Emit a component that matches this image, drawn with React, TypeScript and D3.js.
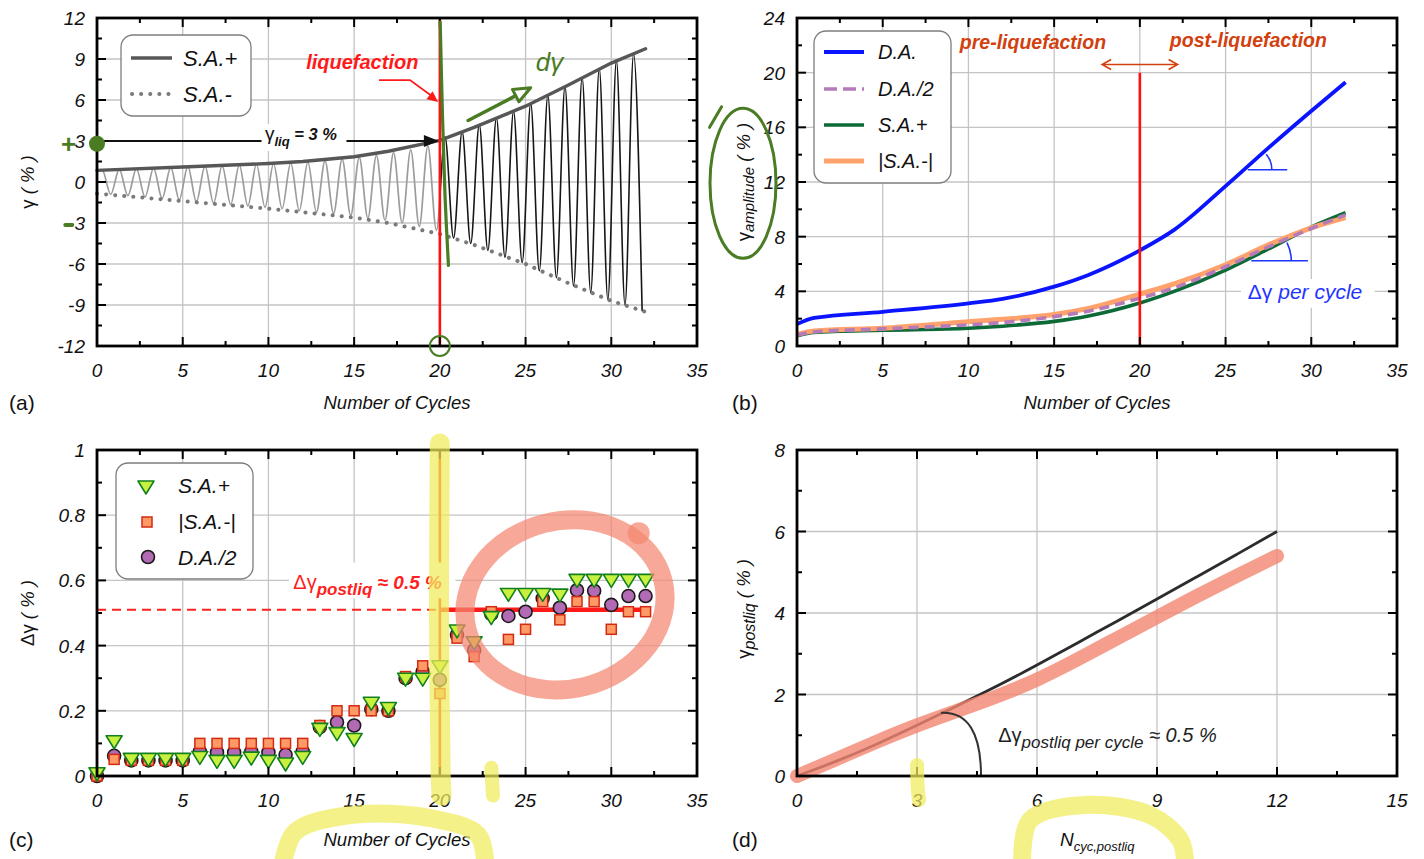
import React from 'react';
import * as d3 from 'd3';

const FONT = '"Liberation Sans", Arial, Helvetica, sans-serif';

// ===================== Panel (a): strain time history =====================
const aXTicks = [0, 5, 10, 15, 20, 25, 30, 35];
const aYTicks = [-12, -9, -6, -3, 0, 3, 6, 9, 12];
const aCycles = [0, 1, 2, 3, 4, 5, 6, 7, 8, 9, 10, 11, 12, 13, 14, 15, 16, 17, 18, 19, 20, 21, 22, 23, 24, 25, 26, 27, 28, 29, 30, 31];
const aPeakStrain = [0.88, 0.92, 0.97, 1.02, 1.07, 1.12, 1.16, 1.2, 1.25, 1.3, 1.35, 1.4, 1.46, 1.55, 1.67, 1.8, 1.95, 2.15, 2.35, 2.65, 3.3, 3.7, 4.2, 4.7, 5.2, 5.75, 6.35, 7.0, 7.65, 8.3, 8.9, 9.4];
const aTroughStrain = [-0.9, -1.0, -1.1, -1.2, -1.3, -1.45, -1.55, -1.65, -1.75, -1.85, -1.95, -2.1, -2.2, -2.3, -2.45, -2.65, -2.8, -3.0, -3.25, -3.55, -4.1, -4.5, -5.0, -5.5, -5.9, -6.5, -7.0, -7.6, -8.1, -8.6, -9.0, -9.45];
const aEnvPlusX = [0, 5, 10, 12, 15, 17, 20, 22, 25, 27.5, 30, 32];
const aEnvPlusY = [0.85, 1.1, 1.35, 1.5, 1.85, 2.25, 3.05, 4.0, 5.55, 7.1, 8.7, 9.75];
const aEnvMinusX = [0, 5, 10, 15, 17, 20, 22, 25, 27.5, 30, 32];
const aEnvMinusY = [-0.85, -1.4, -1.95, -2.6, -3.0, -3.8, -4.6, -6.0, -7.4, -8.7, -9.5];
const LIQ_CYCLE = 20;
const LIQ_STRAIN = 3;
const PEAK_PHASE = 0.3;
const TROUGH_PHASE = 0.8;

// ===================== Panel (b): amplitudes =====================
const bXTicks = [0, 5, 10, 15, 20, 25, 30, 35];
const bYTicks = [0, 4, 8, 12, 16, 20, 24];
const bCycles = [0, 1, 5, 10, 12, 15, 17, 20, 22, 25, 27.5, 30, 32];
const bDA = [1.6, 2.05, 2.5, 3.12, 3.45, 4.34, 5.2, 7.0, 8.5, 11.7, 14.5, 17.2, 19.3];
const bDAHalf = [0.8, 1.03, 1.25, 1.55, 1.72, 2.15, 2.55, 3.5, 4.25, 5.8, 7.25, 8.6, 9.6];
const bSAPlus = [0.75, 1.0, 1.15, 1.3, 1.45, 1.8, 2.2, 3.15, 4.0, 5.55, 7.1, 8.7, 9.75];
const bSAMinusAbs = [0.85, 1.1, 1.3, 1.78, 1.95, 2.3, 2.75, 3.8, 4.55, 5.95, 7.4, 8.65, 9.4];
const bLiqTop = 20;

// ===================== Panel (c): increments per cycle =====================
const cXTicks = [0, 5, 10, 15, 20, 25, 30, 35];
const cYTicks = [0, 0.2, 0.4, 0.6, 0.8, 1];
const cCycles = [0, 1, 2, 3, 4, 5, 6, 7, 8, 9, 10, 11, 12, 13, 14, 15, 16, 17, 18, 19, 20, 21, 22, 23, 24, 25, 26, 27, 28, 29, 30, 31, 32];
const cSAPlus = [0.01, 0.108, 0.054, 0.054, 0.054, 0.054, 0.06, 0.048, 0.048, 0.058, 0.048, 0.04, 0.06, 0.146, 0.133, 0.115, 0.226, 0.21, 0.3, 0.3, 0.338, 0.448, 0.412, 0.489, 0.56, 0.56, 0.56, 0.558, 0.603, 0.603, 0.603, 0.603, 0.603];
const cSAMinusAbs = [0.0, 0.051, 0.048, 0.048, 0.048, 0.048, 0.1, 0.1, 0.1, 0.1, 0.1, 0.1, 0.1, 0.155, 0.2, 0.2, 0.2, 0.2, 0.305, 0.338, 0.253, 0.423, 0.366, 0.504, 0.419, 0.45, 0.535, 0.479, 0.535, 0.535, 0.45, 0.504, 0.504];
const cDAHalf = [0.0, 0.062, 0.048, 0.048, 0.048, 0.048, 0.075, 0.072, 0.072, 0.075, 0.072, 0.065, 0.075, 0.15, 0.165, 0.155, 0.205, 0.2, 0.3, 0.32, 0.295, 0.433, 0.386, 0.497, 0.491, 0.504, 0.545, 0.516, 0.57, 0.568, 0.525, 0.552, 0.552];
const cPostliqMean = 0.51;
const cPostliqEnd = 32.3;

// ===================== Panel (d): post-liquefaction strain =====================
const dXTicks = [0, 3, 6, 9, 12, 15];
const dYTicks = [0, 2, 4, 6, 8];
const dCycles = [0, 1, 2, 3, 4, 5, 6, 7, 8, 9, 10, 11, 12];
const dGammaPost = [0, 0.36, 0.78, 1.24, 1.72, 2.2, 2.72, 3.26, 3.8, 4.34, 4.89, 5.44, 6.0];
const dHighlight = [0, 0.42, 0.85, 1.25, 1.6, 1.95, 2.35, 2.85, 3.38, 3.9, 4.42, 4.92, 5.4];

// ===================== scales =====================
const sxA = d3.scaleLinear().domain([0, 35]).range([97, 697]);
const syA = d3.scaleLinear().domain([-12, 12]).range([346, 18]);
const sxB = d3.scaleLinear().domain([0, 35]).range([797, 1397]);
const syB = d3.scaleLinear().domain([0, 24]).range([346, 18]);
const sxC = d3.scaleLinear().domain([0, 35]).range([97, 697]);
const syC = d3.scaleLinear().domain([0, 1]).range([776, 450]);
const sxD = d3.scaleLinear().domain([0, 15]).range([797, 1397]);
const syD = d3.scaleLinear().domain([0, 8]).range([776, 450]);

type Sc = d3.ScaleLinear<number, number>;

const mids = (t: number[]) => t.slice(0, -1).map((v, i) => (v + t[i + 1]) / 2);

function Grid({ sx, sy, xTicks, yTicks }: { sx: Sc; sy: Sc; xTicks: number[]; yTicks: number[] }) {
  const [x0, x1] = sx.range();
  const [y0, y1] = sy.range();
  return (
    <g stroke="#c4c4c4" strokeWidth={1.3}>
      {xTicks.slice(1, -1).map((t) => (
        <line key={'gx' + t} x1={sx(t)} x2={sx(t)} y1={y0} y2={y1} />
      ))}
      {yTicks.slice(1, -1).map((t) => (
        <line key={'gy' + t} x1={x0} x2={x1} y1={sy(t)} y2={sy(t)} />
      ))}
    </g>
  );
}

function Frame({ sx, sy, xTicks, yTicks }: { sx: Sc; sy: Sc; xTicks: number[]; yTicks: number[] }) {
  const [x0, x1] = sx.range();
  const [y0, y1] = sy.range();
  const maj = 9;
  const mnr = 5;
  const xm = mids(xTicks);
  const ym = mids(yTicks);
  const tk: JSX.Element[] = [];
  xTicks.forEach((t) => {
    tk.push(<line key={'xb' + t} x1={sx(t)} x2={sx(t)} y1={y0} y2={y0 - maj} />);
    tk.push(<line key={'xt' + t} x1={sx(t)} x2={sx(t)} y1={y1} y2={y1 + maj} />);
  });
  xm.forEach((t) => {
    tk.push(<line key={'xmb' + t} x1={sx(t)} x2={sx(t)} y1={y0} y2={y0 - mnr} />);
    tk.push(<line key={'xmt' + t} x1={sx(t)} x2={sx(t)} y1={y1} y2={y1 + mnr} />);
  });
  yTicks.forEach((t) => {
    tk.push(<line key={'yl' + t} x1={x0} x2={x0 + maj} y1={sy(t)} y2={sy(t)} />);
    tk.push(<line key={'yr' + t} x1={x1} x2={x1 - maj} y1={sy(t)} y2={sy(t)} />);
  });
  ym.forEach((t) => {
    tk.push(<line key={'yml' + t} x1={x0} x2={x0 + mnr} y1={sy(t)} y2={sy(t)} />);
    tk.push(<line key={'ymr' + t} x1={x1} x2={x1 - mnr} y1={sy(t)} y2={sy(t)} />);
  });
  return (
    <g>
      <g stroke="#000" strokeWidth={2}>{tk}</g>
      <rect x={x0} y={y1} width={x1 - x0} height={y0 - y1} fill="none" stroke="#000" strokeWidth={2.8} />
      <g fontFamily={FONT} fontStyle="italic" fontSize={19} fill="#111">
        {xTicks.map((t) => (
          <text key={'lx' + t} x={sx(t)} y={y0 + 31} textAnchor="middle">
            {String(t)}
          </text>
        ))}
        {yTicks.map((t) => (
          <text key={'ly' + t} x={x0 - 12} y={sy(t) + 7} textAnchor="end">
            {String(t)}
          </text>
        ))}
      </g>
    </g>
  );
}

function head(x1: number, y1: number, x2: number, y2: number, len: number, half: number) {
  const a = Math.atan2(y2 - y1, x2 - x1);
  const bx = x2 - len * Math.cos(a);
  const by = y2 - len * Math.sin(a);
  return `${bx - half * Math.sin(a)},${by + half * Math.cos(a)} ${x2},${y2} ${bx + half * Math.sin(a)},${by - half * Math.cos(a)}`;
}

const GREEN = '#4a7c23';
const YELLOW = '#f1ec5c';
const SALMON = '#f48670';

export default function App() {
  // ---------- (a) ----------
  const lA = d3.line<[number, number]>().x((d) => sxA(d[0])).y((d) => syA(d[1]));
  const osc: [number, number][] = [[0, aPeakStrain[0]]];
  aCycles.forEach((n, i) => {
    osc.push([n + PEAK_PHASE, aPeakStrain[i]]);
    osc.push([n + TROUGH_PHASE, aTroughStrain[i]]);
  });
  const oscPath = lA.curve(d3.curveMonotoneX)(osc) || '';
  const lAlin = d3.line<[number, number]>().x((d) => sxA(d[0])).y((d) => syA(d[1]));
  const envPlus = lAlin(aEnvPlusX.map((x, i) => [x, aEnvPlusY[i]] as [number, number])) || '';
  const envMinus = lAlin(aEnvMinusX.map((x, i) => [x, aEnvMinusY[i]] as [number, number])) || '';

  const arX1 = sxA(0), arX2 = sxA(LIQ_CYCLE) - 1, arY = syA(LIQ_STRAIN);
  const leader: [number, number][] = [[16.45, 7.46], [18.26, 7.46], [19.9, 5.85]];
  const leaderPx = leader.map(([x, y]) => [sxA(x), syA(y)]);

  // ---------- (b) ----------
  const lB = d3
    .line<[number, number]>()
    .x((d) => sxB(d[0]))
    .y((d) => syB(d[1]))
    .curve(d3.curveMonotoneX);
  const ser = (v: number[]) => lB(bCycles.map((c, i) => [c, v[i]] as [number, number])) || '';

  const arc1 = d3.path();
  arc1.arc(sxB(26.3), syB(12.9), 24, -0.7, 0);
  const arc2 = d3.path();
  arc2.arc(sxB(26.5), syB(6.24), 40, -0.47, 0);

  // ---------- (d) ----------
  const lD = d3.line<[number, number]>().x((d) => sxD(d[0])).y((d) => syD(d[1])).curve(d3.curveBasis);
  const dBlack = lD(dCycles.map((c, i) => [c, dGammaPost[i]] as [number, number])) || '';
  const dSalmon = lD(dCycles.map((c, i) => [c, dHighlight[i]] as [number, number])) || '';
  const dArc = d3.path();
  dArc.moveTo(sxD(3.6), syD(1.55));
  dArc.quadraticCurveTo(sxD(4.6), syD(1.6), sxD(4.6), syD(0));

  const hl = (pts: [number, number][], sx: Sc, sy: Sc) =>
    d3.line<[number, number]>().x((d) => sx(d[0])).y((d) => sy(d[1])).curve(d3.curveCatmullRom)(pts) || '';

  const tri = (cx: number, cy: number) => `${cx - 8},${cy - 5} ${cx + 8},${cy - 5} ${cx},${cy + 8}`;

  const italic = { fontFamily: FONT, fontStyle: 'italic' as const };

  return (
    <svg
      width={1424}
      height={859}
      viewBox="0 0 1424 859"
      style={{ position: 'absolute', left: 0, top: 0, background: '#fff' }}
      fontFamily={FONT}
    >
      <defs>
        <clipPath id="preA">
          <rect x={sxA(0)} y={syA(12)} width={sxA(LIQ_CYCLE) - sxA(0)} height={syA(-12) - syA(12)} />
        </clipPath>
        <clipPath id="postA">
          <rect x={sxA(LIQ_CYCLE)} y={syA(12)} width={sxA(35) - sxA(LIQ_CYCLE)} height={syA(-12) - syA(12)} />
        </clipPath>
      </defs>
      <rect x={0} y={0} width={1424} height={859} fill="#fff" />

      {/* ===================== (a) ===================== */}
      <Grid sx={sxA} sy={syA} xTicks={aXTicks} yTicks={aYTicks} />
      <path d={oscPath} fill="none" stroke="#9c9c9c" strokeWidth={1.7} clipPath="url(#preA)" />
      <path d={oscPath} fill="none" stroke="#161616" strokeWidth={1.6} clipPath="url(#postA)" />
      <path d={envMinus} fill="none" stroke="#7a7a7a" strokeWidth={4} strokeDasharray="0.1 9" strokeLinecap="round" />
      <path d={envPlus} fill="none" stroke="#575757" strokeWidth={3.4} strokeLinecap="round" />
      <line x1={arX1} x2={arX2 - 10} y1={arY} y2={arY} stroke="#111" strokeWidth={2.2} />
      <polygon points={head(arX1, arY, arX2, arY, 15, 6)} fill="#111" />
      <rect x={sxA(9.6)} y={arY - 17} width={sxA(14.55) - sxA(9.6)} height={27} fill="#fff" />
      <text x={sxA(9.8)} y={arY - 1} fontSize={16.5} fontWeight="bold" fontStyle="italic" fill="#111">
        <tspan fontWeight="normal" fontStyle="normal" fontSize={19}>γ</tspan>
        <tspan fontSize={13} dy={6}>liq</tspan>
        <tspan dy={-6}> = 3 %</tspan>
      </text>
      <line x1={sxA(LIQ_CYCLE)} x2={sxA(LIQ_CYCLE)} y1={syA(12)} y2={syA(-12)} stroke="#ff1010" strokeWidth={2.6} />
      <text x={sxA(12.2)} y={syA(8.25)} fontSize={20} fontWeight="bold" fontStyle="italic" fill="#ff1a1a">
        liquefaction
      </text>
      <polyline
        points={leaderPx.slice(0, 2).concat([[leaderPx[2][0] - 5, leaderPx[2][1] - 5]]).map((p) => p.join(',')).join(' ')}
        fill="none"
        stroke="#ff1a1a"
        strokeWidth={1.8}
      />
      <polygon points={head(leaderPx[1][0], leaderPx[1][1], leaderPx[2][0], leaderPx[2][1], 11, 5)} fill="#ff1a1a" />
      <rect x={121} y={35} width={130} height={81} rx={12} fill="#fff" stroke="#7d7d7d" strokeWidth={1.3} />
      <line x1={131} x2={172} y1={58} y2={58} stroke="#575757" strokeWidth={3.4} />
      <line x1={132} x2={170} y1={94} y2={94} stroke="#7a7a7a" strokeWidth={4} strokeDasharray="0.1 9" strokeLinecap="round" />
      <text x={183} y={66} fontSize={22} {...italic} fill="#111">S.A.+</text>
      <text x={183} y={102} fontSize={22} {...italic} fill="#111">S.A.-</text>
      <Frame sx={sxA} sy={syA} xTicks={aXTicks} yTicks={aYTicks} />
      <circle cx={sxA(0)} cy={syA(2.8)} r={8} fill={GREEN} />
      <text x={sxA(-2.1)} y={syA(2.8) + 9} fontSize={26} fontWeight="bold" fill={GREEN}>+</text>
      <line x1={sxA(-1.85)} x2={sxA(-1.45)} y1={syA(-3.15)} y2={syA(-3.15)} stroke={GREEN} strokeWidth={4} strokeLinecap="round" />
      <path
        d={hl([[20.02, 11.7], [20.15, 5], [20.3, -1], [20.5, -6.1]], sxA, syA)}
        fill="none"
        stroke={GREEN}
        strokeWidth={3.2}
        strokeLinecap="round"
      />
      <line x1={sxA(21.65)} y1={syA(4.5)} x2={sxA(24.4)} y2={syA(6.3)} stroke={GREEN} strokeWidth={3.5} strokeLinecap="round" />
      <polygon points={head(sxA(21.65), syA(4.5), sxA(25.3), syA(6.9), 17, 7)} fill="none" stroke={GREEN} strokeWidth={3} strokeLinejoin="round" />
      <text x={sxA(25.6)} y={syA(8.1)} fontSize={26} fill={GREEN} fontStyle="italic">dγ</text>
      <circle cx={sxA(LIQ_CYCLE)} cy={syA(-12)} r={10} fill="none" stroke={GREEN} strokeWidth={2} />

      <text transform={`translate(34,${syA(0)}) rotate(-90)`} textAnchor="middle" fontSize={18.5} fill="#111">
        γ <tspan fontStyle="italic">( % )</tspan>
      </text>
      <text x={(sxA(0) + sxA(35)) / 2} y={409} textAnchor="middle" fontSize={18.5} {...italic} fill="#111">
        Number of Cycles
      </text>
      <text x={9} y={410} fontSize={21} fill="#111">(a)</text>

      {/* ===================== (b) ===================== */}
      <Grid sx={sxB} sy={syB} xTicks={bXTicks} yTicks={bYTicks} />
      <path d={ser(bSAPlus)} fill="none" stroke="#0b6a35" strokeWidth={3.6} />
      <path d={ser(bSAMinusAbs)} fill="none" stroke="#ffa26c" strokeWidth={5} />
      <path d={ser(bDAHalf)} fill="none" stroke="#b57ab8" strokeWidth={3.6} strokeDasharray="10 6" />
      <path d={ser(bDA)} fill="none" stroke="#0a14ff" strokeWidth={3.8} />
      <line x1={sxB(LIQ_CYCLE)} x2={sxB(LIQ_CYCLE)} y1={syB(bLiqTop)} y2={syB(0)} stroke="#ff1010" strokeWidth={2.6} />
      <line x1={sxB(26.3)} x2={sxB(28.6)} y1={syB(12.9)} y2={syB(12.9)} stroke="#1f35ff" strokeWidth={1.6} />
      <path d={arc1.toString()} fill="none" stroke="#1f35ff" strokeWidth={1.6} />
      <line x1={sxB(26.5)} x2={sxB(29.8)} y1={syB(6.24)} y2={syB(6.24)} stroke="#1f35ff" strokeWidth={1.6} />
      <path d={arc2.toString()} fill="none" stroke="#1f35ff" strokeWidth={1.6} />
      <rect x={sxB(25.9)} y={syB(4.9)} width={sxB(33.7) - sxB(25.9)} height={syB(2.8) - syB(4.9)} fill="#fff" />
      <text x={sxB(26.3)} y={syB(3.42)} fontSize={21} fill="#1f35ff">
        Δγ<tspan fontStyle="italic"> per cycle</tspan>
      </text>
      <text x={sxB(9.5)} y={syB(21.7)} fontSize={19.5} fontWeight="bold" fontStyle="italic" fill="#d2400e">
        pre-liquefaction
      </text>
      <text x={sxB(21.75)} y={syB(21.85)} fontSize={19.5} fontWeight="bold" fontStyle="italic" fill="#d2400e">
        post-liquefaction
      </text>
      <line x1={sxB(17.85)} x2={sxB(22.15)} y1={syB(20.6)} y2={syB(20.6)} stroke="#d2400e" strokeWidth={1.6} />
      <polyline points={head(sxB(20), syB(20.6), sxB(17.8), syB(20.6), 9, 5)} fill="none" stroke="#d2400e" strokeWidth={1.6} />
      <polyline points={head(sxB(20), syB(20.6), sxB(22.2), syB(20.6), 9, 5)} fill="none" stroke="#d2400e" strokeWidth={1.6} />
      <rect x={814} y={31} width={137} height={152} rx={12} fill="#fff" stroke="#7d7d7d" strokeWidth={1.3} />
      <line x1={824} x2={864} y1={52} y2={52} stroke="#0a14ff" strokeWidth={3.8} />
      <line x1={824} x2={864} y1={89} y2={89} stroke="#b57ab8" strokeWidth={3.6} strokeDasharray="13 6" />
      <line x1={824} x2={864} y1={125} y2={125} stroke="#0b6a35" strokeWidth={3.6} />
      <line x1={824} x2={864} y1={161} y2={161} stroke="#ffa26c" strokeWidth={5} />
      <g fontSize={20} {...italic} fill="#111">
        <text x={878} y={59}>D.A.</text>
        <text x={878} y={96}>D.A./2</text>
        <text x={878} y={132}>S.A.+</text>
        <text x={878} y={168}>|S.A.-|</text>
      </g>
      <Frame sx={sxB} sy={syB} xTicks={bXTicks} yTicks={bYTicks} />
      <text transform={`translate(750,${syB(12)}) rotate(-90)`} textAnchor="middle" fontSize={18.5} fill="#111">
        γ<tspan fontSize={15} fontStyle="italic" dy={4}>amplitude</tspan>
        <tspan fontStyle="italic" dy={-4}> ( % )</tspan>
      </text>
      <ellipse cx={sxB(-3.15)} cy={syB(11.9)} rx={33} ry={75} fill="none" stroke={GREEN} strokeWidth={3} />
      <line x1={sxB(-5.1)} y1={syB(16.0)} x2={sxB(-4.4)} y2={syB(17.5)} stroke={GREEN} strokeWidth={3} strokeLinecap="round" />
      <text x={(sxB(0) + sxB(35)) / 2} y={409} textAnchor="middle" fontSize={18.5} {...italic} fill="#111">
        Number of Cycles
      </text>
      <text x={732} y={410} fontSize={21} fill="#111">(b)</text>

      {/* ===================== (c) ===================== */}
      <Grid sx={sxC} sy={syC} xTicks={cXTicks} yTicks={cYTicks} />
      <line x1={sxC(0)} x2={sxC(LIQ_CYCLE)} y1={syC(cPostliqMean)} y2={syC(cPostliqMean)} stroke="#ff2020" strokeWidth={1.8} strokeDasharray="9 6" />
      <line x1={sxC(LIQ_CYCLE)} x2={sxC(LIQ_CYCLE)} y1={syC(1)} y2={syC(0)} stroke="#ff2a00" strokeWidth={2.6} />
      <line x1={sxC(LIQ_CYCLE)} x2={sxC(cPostliqEnd)} y1={syC(cPostliqMean)} y2={syC(cPostliqMean)} stroke="#ff1a1a" strokeWidth={4.5} />
      <rect x={sxC(11.2)} y={syC(0.655)} width={sxC(20.9) - sxC(11.2)} height={syC(0.545) - syC(0.655)} fill="#fff" />
      <text x={sxC(11.45)} y={syC(0.575)} fill="#ff2020">
        <tspan fontSize={20}>Δγ</tspan>
        <tspan fontSize={17} fontWeight="bold" fontStyle="italic" dy={6}>postliq</tspan>
        <tspan fontSize={19} fontWeight="bold" fontStyle="italic" dy={-6}> ≈ 0.5 %</tspan>
      </text>
      {cCycles.map((c, i) => (
        <circle key={'cc' + c} cx={sxC(c)} cy={syC(cDAHalf[i])} r={6.5} fill="#b36ab4" stroke="#1a1a1a" strokeWidth={1.6} />
      ))}
      {cCycles.map((c, i) => (
        <rect key={'cs' + c} x={sxC(c) - 5} y={syC(cSAMinusAbs[i]) - 5} width={10} height={10} fill="#ff9a66" stroke="#d42a10" strokeWidth={1.5} />
      ))}
      {cCycles.map((c, i) => (
        <polygon key={'ct' + c} points={tri(sxC(c), syC(cSAPlus[i]))} fill="#c8f03e" stroke="#12801f" strokeWidth={1.6} strokeLinejoin="round" />
      ))}
      <rect x={116} y={463} width={137} height={116} rx={12} fill="#fff" stroke="#7d7d7d" strokeWidth={1.3} />
      <polygon points={tri(146, 486)} fill="#c8f03e" stroke="#12801f" strokeWidth={1.6} strokeLinejoin="round" />
      <rect x={142} y={517} width={10} height={10} fill="#ff9a66" stroke="#d42a10" strokeWidth={1.5} />
      <circle cx={148} cy={557} r={6.5} fill="#b36ab4" stroke="#1a1a1a" strokeWidth={1.6} />
      <g fontSize={21} {...italic} fill="#111">
        <text x={178} y={493}>S.A.+</text>
        <text x={178} y={529}>|S.A.-|</text>
        <text x={178} y={565}>D.A./2</text>
      </g>
      <Frame sx={sxC} sy={syC} xTicks={cXTicks} yTicks={cYTicks} />
      <text transform={`translate(34,${syC(0.5)}) rotate(-90)`} textAnchor="middle" fontSize={18.5} fill="#111">
        Δγ <tspan fontStyle="italic">( % )</tspan>
      </text>
      <text x={(sxC(0) + sxC(35)) / 2} y={846} textAnchor="middle" fontSize={18.5} {...italic} fill="#111">
        Number of Cycles
      </text>
      <text x={9} y={847} fontSize={21} fill="#111">(c)</text>
      <ellipse
        cx={sxC(27.3)}
        cy={syC(0.525)}
        rx={101}
        ry={84}
        transform={`rotate(-14 ${sxC(27.3)} ${syC(0.525)})`}
        fill="none"
        stroke={SALMON}
        strokeWidth={19}
        opacity={0.72}
      />
      <circle cx={sxC(31.6)} cy={syC(0.745)} r={11} fill={SALMON} opacity={0.72} />
      <g fill="none" stroke={YELLOW} strokeLinecap="round" opacity={0.72}>
        <path d={hl([[20.0, 1.02], [19.95, 0.5], [20.05, 0.0], [20.1, -0.06]], sxC, syC)} strokeWidth={20} />
        <path d={hl([[23.0, 0.025], [23.1, -0.06]], sxC, syC)} strokeWidth={14} />
        <path
          d={hl([[10.85, -0.27], [11.55, -0.172], [14.76, -0.12], [19.43, -0.129], [22.23, -0.181], [22.64, -0.27]], sxC, syC)}
          strokeWidth={18}
        />
      </g>

      {/* ===================== (d) ===================== */}
      <Grid sx={sxD} sy={syD} xTicks={dXTicks} yTicks={dYTicks} />
      <path d={dBlack} fill="none" stroke="#2c2c2c" strokeWidth={2.8} />
      <path d={dSalmon} fill="none" stroke={SALMON} strokeWidth={14} strokeLinecap="round" opacity={0.8} />
      <path d={dArc.toString()} fill="none" stroke="#333" strokeWidth={2} />
      <text x={sxD(5.03)} y={syD(0.83)} fill="#222">
        <tspan fontSize={20}>Δγ</tspan>
        <tspan fontSize={17} fontStyle="italic" dy={6}>postliq per cycle</tspan>
        <tspan fontSize={20} fontStyle="italic" dy={-6}> ≈ 0.5 %</tspan>
      </text>
      <Frame sx={sxD} sy={syD} xTicks={dXTicks} yTicks={dYTicks} />
      <text transform={`translate(750,${syD(4.1)}) rotate(-90)`} textAnchor="middle" fontSize={18.5} fill="#111">
        γ<tspan fontSize={16} fontStyle="italic" dy={5}>postliq</tspan>
        <tspan fontStyle="italic" dy={-5}> ( % )</tspan>
      </text>
      <text x={1060} y={846} fill="#111" {...italic}>
        <tspan fontSize={19}>N</tspan>
        <tspan fontSize={13} dy={5}>cyc,postliq</tspan>
      </text>
      <text x={732} y={847} fontSize={21} fill="#111">(d)</text>
      <g fill="none" stroke={YELLOW} strokeLinecap="round" opacity={0.72}>
        <path d={hl([[3.0, 0.27], [3.02, -0.3], [3.05, -0.59]], sxD, syD)} strokeWidth={14} />
        <path
          d={hl([[5.63, -2.1], [5.83, -1.08], [7.2, -0.71], [8.83, -0.96], [9.58, -1.57], [9.7, -2.1]], sxD, syD)}
          strokeWidth={18}
        />
      </g>
    </svg>
  );
}
